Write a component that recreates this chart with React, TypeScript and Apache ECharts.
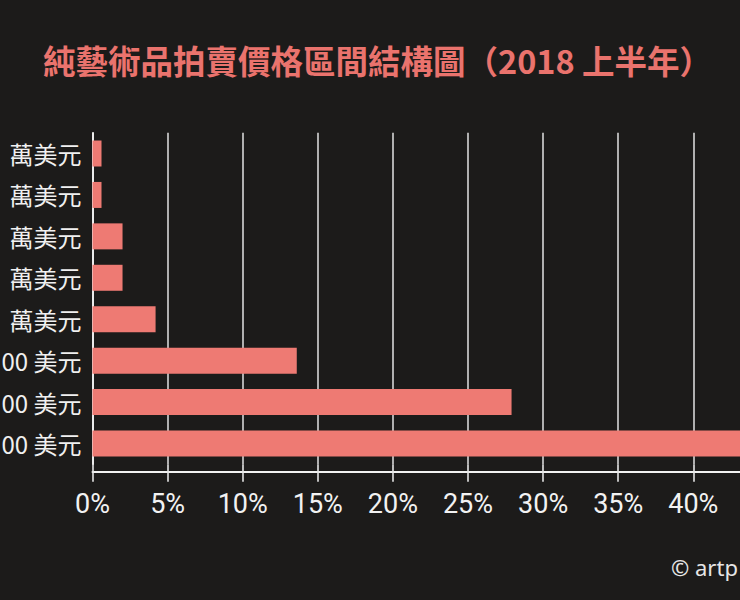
import React, { useEffect, useRef } from "react";
import * as echarts from "echarts";

const title = "純藝術品拍賣價格區間結構圖（2018 上半年）";
const source = "© artp";
// category labels as they are visible in the reference (their left part is cropped off there)
const categories = [
  "萬美元",
  "萬美元",
  "萬美元",
  "萬美元",
  "萬美元",
  "00 美元",
  "00 美元",
  "00 美元",
];
const shares = [0.6, 0.6, 2.0, 2.0, 4.2, 13.6, 27.9, 49.1];
const xMin = 0;
const xMax = 45;
const xStep = 5;

const BG = "#1c1b1a";
const BAR = "#ee7a73";
const TITLE = "#ea736d";

export default function App() {
  const ref = useRef<HTMLDivElement>(null);
  useEffect(() => {
    if (!ref.current) return;
    const chart = echarts.init(ref.current, null, { renderer: "svg" });
    const gridTop = 132.8;
    const gridHeight = 331.4;
    const axisY = 471.7;
    chart.setOption({
      animation: false,
      backgroundColor: BG,
      graphic: [
        {
          type: "text",
          left: 43,
          top: 43,
          style: {
            text: title,
            fill: TITLE,
            font: "bold 32.5px 'Noto Sans CJK TC', 'Noto Sans', sans-serif",
          },
        },
        {
          type: "text",
          left: 671,
          top: 556,
          style: {
            text: source,
            fill: "#e6e6e6",
            font: "22px 'Noto Sans', 'Open Sans', sans-serif",
          },
        },
      ],
      grid: {
        left: 92.5,
        top: gridTop,
        width: (xMax - xMin) * 15.02,
        height: gridHeight,
        containLabel: false,
        outerBoundsMode: "none",
      },
      xAxis: [
        {
          type: "value",
          min: xMin,
          max: xMax,
          interval: xStep,
          position: "bottom",
          offset: axisY - (gridTop + gridHeight),
          axisLine: { show: true, lineStyle: { color: "#f2f2f2", width: 2 } },
          axisTick: { show: false },
          axisLabel: {
            show: true,
            margin: 19,
            color: "#f2f2f2",
            fontSize: 27,
            showMaxLabel: false,
            fontFamily: "Roboto, 'Noto Sans', sans-serif",
            formatter: (v: number) => `${v}%`,
          },
          splitLine: { show: true, lineStyle: { color: "#d6d6d6", width: 1.6 } },
        },
        {
          type: "value",
          min: xMin,
          max: xMax,
          interval: xStep,
          position: "bottom",
          offset: 0,
          axisLine: { show: false },
          axisTick: { show: true, length: 17.5, lineStyle: { color: "#e6e6e6", width: 1.6 } },
          axisLabel: { show: false },
          splitLine: { show: false },
        },
      ],
      yAxis: {
        type: "category",
        data: categories,
        inverse: true,
        axisLine: { show: true, lineStyle: { color: "#f2f2f2", width: 1.8 } },
        axisTick: { show: false },
        axisLabel: {
          margin: 11,
          color: "#f0f0f0",
          fontSize: 24,
          fontFamily: "'Noto Sans CJK TC', 'Noto Sans', sans-serif",
        },
        splitLine: { show: false },
      },
      series: [
        {
          type: "bar",
          xAxisIndex: 0,
          data: shares,
          barWidth: 26,
          itemStyle: { color: BAR },
          silent: true,
        },
      ],
    });
    return () => chart.dispose();
  }, []);
  return (
    <div
      ref={ref}
      style={{ position: "fixed", left: 0, top: 0, width: 740, height: 600, background: BG }}
    />
  );
}
